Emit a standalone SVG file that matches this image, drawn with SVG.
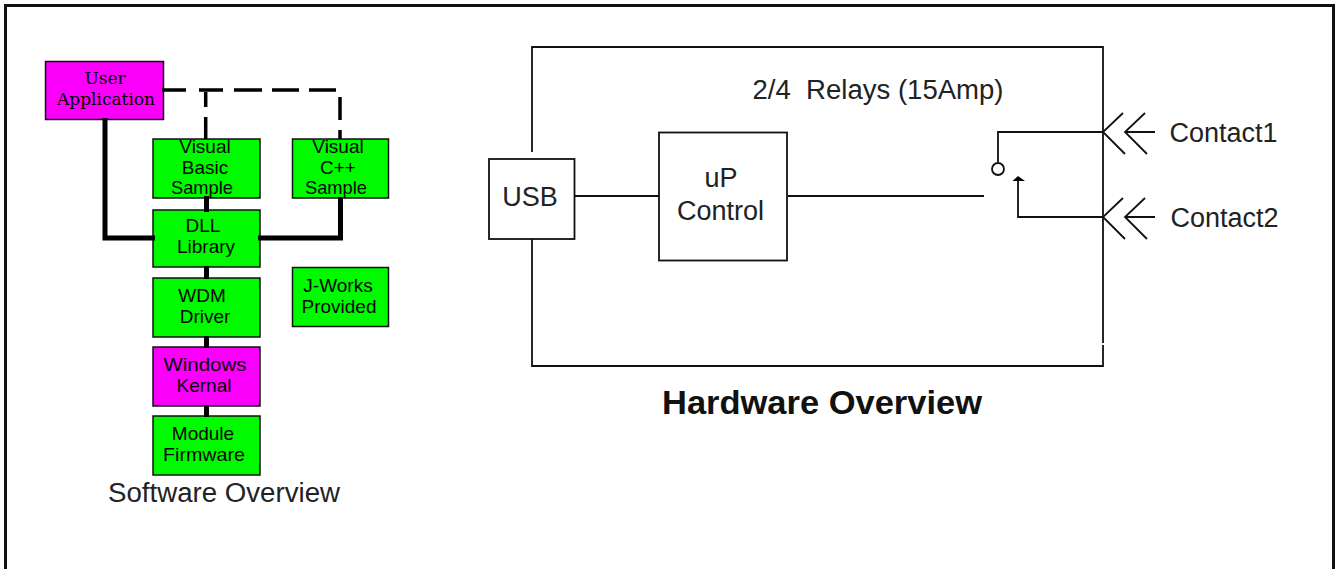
<svg xmlns="http://www.w3.org/2000/svg" width="1336" height="569" viewBox="0 0 1336 569">
<style>
text{font-family:"Liberation Sans",Arial,sans-serif;fill:#000;text-anchor:middle;white-space:pre}
.box{stroke:#111;stroke-width:1.5}
.g{fill:#00fa00}.m{fill:#fa00fa}
.s{font-size:19px;fill:#050505}
.u{font-family:"DejaVu Serif","Liberation Serif",serif;font-size:17px}
.h{font-size:27px;fill:#222}
.w{fill:#fff;stroke:#111;stroke-width:1.8}
.l{fill:none;stroke:#111;stroke-width:1.8}
.t{fill:none;stroke:#000;stroke-width:5}
.d{fill:none;stroke:#000;stroke-width:3.5}
</style>
<rect x="5.500" y="5.500" width="1328" height="565" fill="#fff" stroke="#111" stroke-width="3"/>
<g id="user-application"><rect class="box m" x="45.500" y="61.500" width="118" height="58"/>
<text class="u" x="105" y="84">User</text>
<text class="u" x="106" y="105">Application</text></g>
<g id="visual-basic"><rect class="box g" x="153" y="139" width="107" height="59"/>
<text class="s" x="205" y="153">Visual</text><text class="s" x="205" y="174">Basic</text><text class="s" x="202" y="194" textLength="62" lengthAdjust="spacingAndGlyphs">Sample</text></g>
<g id="visual-cpp"><rect class="box g" x="292.500" y="139" width="96" height="59"/>
<text class="s" x="338" y="153">Visual</text><text class="s" x="338" y="174">C++</text><text class="s" x="336" y="194" textLength="62" lengthAdjust="spacingAndGlyphs">Sample</text></g>
<g id="dll"><rect class="box g" x="153" y="210" width="107" height="57"/>
<text class="s" x="203" y="232">DLL</text><text class="s" x="206" y="253">Library</text></g>
<g id="wdm"><rect class="box g" x="153" y="278" width="107" height="59"/>
<text class="s" x="202" y="302">WDM</text><text class="s" x="205" y="323">Driver</text></g>
<g id="jworks"><rect class="box g" x="292.500" y="267.500" width="96" height="59"/>
<text class="s" x="338" y="292">J-Works</text><text class="s" x="339" y="313">Provided</text></g>
<g id="kernal"><rect class="box m" x="153" y="347" width="107" height="59"/>
<text class="s" x="205" y="371" textLength="83" lengthAdjust="spacingAndGlyphs">Windows</text><text class="s" x="204" y="392">Kernal</text></g>
<g id="firmware"><rect class="box g" x="153" y="416" width="107" height="59"/>
<text class="s" x="203" y="440">Module</text><text class="s" x="204" y="461" textLength="82" lengthAdjust="spacingAndGlyphs">Firmware</text></g>
<text class="h" x="224" y="502" textLength="232" lengthAdjust="spacingAndGlyphs">Software Overview</text>
<g id="usb"><rect class="w" x="489" y="159" width="85.500" height="80"/><text class="h" x="530" y="206">USB</text></g>
<g id="control"><rect class="w" x="659" y="132.500" width="128" height="128"/><text class="h" x="721" y="187">uP</text><text class="h" x="720.500" y="220">Control</text></g>
<g id="connectors">
<path class="t" d="M105 118V238H155M258 238H340.500V197M206.500 196V212M206.500 266V279M206.500 336V348M206.500 405V417"/>
<path class="d" d="M162 90H186M199 90H223M234 90H262M272 90H299M309 90H336M340 97V120M340 130V139M205.700 92V107M205.700 117V139"/>
<path class="l" d="M532 152V47H1103V343M1103 345V366H532V239M575 196H659M788 196H984M998 162V132H1103M1018 180V217H1103"/>
<path class="l" d="M1123 113L1103 132L1125 154M1145 113L1125 132L1147 154M1125 132H1155M1123 198L1103 217L1125 239M1145 198L1125 217L1147 239M1125 217H1155"/>
<circle class="l" cx="998" cy="169" r="6" fill="#fff"/>
<path d="M1012.500 181L1018 176L1025 181Z" fill="#000"/>
</g>
<text class="h" x="878" y="99" textLength="251" lengthAdjust="spacingAndGlyphs">2/4  Relays (15Amp)</text>
<text class="h" x="1223.500" y="142">Contact1</text>
<text class="h" x="1224.500" y="227">Contact2</text>
<text x="822" y="414" textLength="320" lengthAdjust="spacingAndGlyphs" style="font-size:33px;font-weight:bold;fill:#111">Hardware Overview</text>
</svg>
